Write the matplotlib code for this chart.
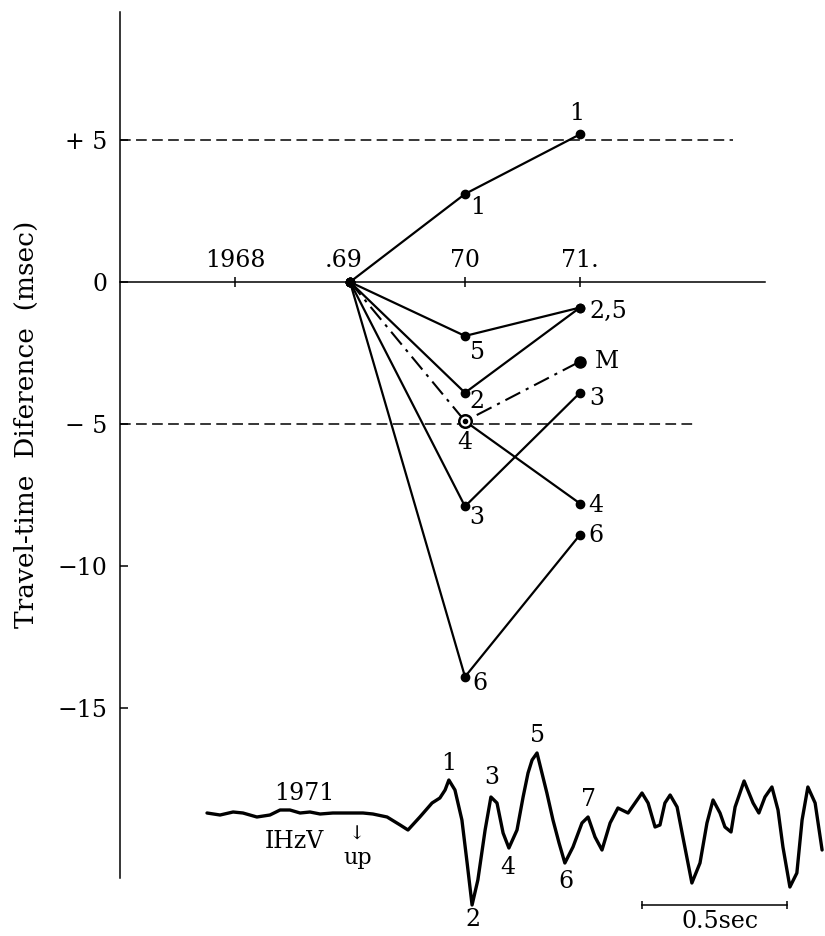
import matplotlib
matplotlib.use("Agg")
import matplotlib.pyplot as plt

plt.rcParams["font.family"] = ["DejaVu Serif"]

# travel-time differences (msec) relative to 1969
years = [1969, 1970, 1971]
ray1 = [0, 3.1, 5.2]
ray2 = [0, -3.9, -0.9]
ray3 = [0, -7.9, -3.9]
ray4 = [0, -4.9, -7.8]
ray5 = [0, -1.9, -0.9]
ray6 = [0, -13.9, -8.9]
mean_m = [0, -4.9, -2.8]

ytick_vals = [5, 0, -5, -10, -15]
ytick_labels = ["+ 5", "0", "\u2212 5", "\u221210", "\u221215"]
xtick_years = [1968, 1969, 1970, 1971]
xtick_labels = ["1968", ".69", "70", "71."]

# seismogram IHzV 1971 (time in sec, amplitude arbitrary)
wave_t = [0.000, 0.045, 0.090, 0.124, 0.172, 0.217, 0.252, 0.286, 0.321, 0.355,
          0.390, 0.434, 0.483, 0.538, 0.572, 0.621, 0.666, 0.693, 0.734, 0.776,
          0.803, 0.821, 0.834, 0.855, 0.879, 0.897, 0.914, 0.934, 0.959, 0.979,
          1.000, 1.021, 1.041, 1.069, 1.090, 1.107, 1.121, 1.138, 1.155, 1.172,
          1.193, 1.214, 1.234, 1.262, 1.293, 1.314, 1.338, 1.362, 1.390, 1.417,
          1.452, 1.476, 1.500, 1.521, 1.545, 1.562, 1.579, 1.597, 1.621, 1.641,
          1.672, 1.700, 1.724, 1.745, 1.769, 1.786, 1.807, 1.821, 1.852, 1.883,
          1.903, 1.924, 1.948, 1.969, 1.986, 2.010, 2.034, 2.052, 2.072, 2.097,
          2.121]
wave_a = [0.0, -0.2, 0.1, 0.0, -0.4, -0.2, 0.3, 0.3, 0.0, 0.1,
          -0.1, 0.0, 0.0, 0.0, -0.1, -0.4, -1.2, -1.7, -0.4, 1.0,
          1.5, 2.3, 3.3, 2.3, -0.7, -5.0, -9.2, -6.7, -1.7, 1.6,
          1.0, -2.0, -3.5, -1.7, 1.6, 4.0, 5.3, 6.0, 4.0, 2.0,
          -0.7, -3.0, -5.0, -3.4, -1.0, -0.4, -2.4, -3.7, -1.0, 0.5,
          0.0, 1.0, 2.0, 1.0, -1.4, -1.2, 1.0, 1.8, 0.6, -2.4,
          -7.0, -5.0, -1.0, 1.3, 0.0, -1.4, -1.9, 0.6, 3.2, 1.0,
          0.0, 1.6, 2.6, 0.3, -3.4, -7.4, -6.0, -0.7, 2.6, 1.0,
          -3.7]
phase_labels = ["1", "2", "3", "4", "5", "6", "7"]
phase_pos = [(0.834, 5.0), (0.917, -10.7), (0.983, 3.5), (1.038, -5.4),
             (1.138, 7.8), (1.238, -6.9), (1.314, 1.3)]
scale_start = 1.5
scale_len = 0.5

FS = 17

fig = plt.figure(figsize=(8.25, 9.36), dpi=100)

# main diagram, axes fill the page; y axis sits at 1967
ax = fig.add_axes([0, 0, 1, 1])
ax.patch.set_alpha(0)
ax.set_xlim(1967 - 120 / 115, 1967 + 705 / 115)
ax.set_ylim(-654 / 28.4, 282 / 28.4)
for s in ["top", "right", "bottom"]:
    ax.spines[s].set_visible(False)
ax.spines["left"].set_position(("data", 1967))
ax.spines["left"].set_bounds(-21.0, 9.5)
ax.spines["left"].set_linewidth(1.1)
ax.set_xticks([])
ax.set_yticks(ytick_vals)
ax.set_yticklabels(ytick_labels, fontsize=FS)
ax.tick_params(axis="y", direction="in", length=6, width=1.1, pad=9)

ax.text(1966.19, -5.0, "Travel-time  Diference  (msec)", rotation=90,
        ha="center", va="center", fontsize=19)

# reference lines
ax.plot([1967, 1972.61], [0, 0], color="black", lw=1.1)
ax.plot([1967, 1972.33], [5, 5], color="black", lw=1.1, ls=(0, (7, 3.5)))
ax.plot([1967, 1972.0], [-5, -5], color="black", lw=1.1, ls=(0, (7, 3.5)))
ax.vlines([y for y in xtick_years if y != 1969], -0.18, 0.18, color="black", lw=1.1)
for yr, lab in zip(xtick_years, xtick_labels):
    dx = -6 if lab.startswith(".") else 0
    ax.annotate(lab, (yr, 0.35), xytext=(dx, 0), textcoords="offset pixels",
                ha="center", va="bottom", fontsize=FS)

# rays
kw = dict(color="black", lw=1.6, solid_capstyle="round")
for r in [ray1, ray2, ray3, ray5, ray6]:
    ax.plot(years, r, **kw)
# ray 4 shares the 1969-1970 segment with the mean (dash-dot)
ax.plot(years[1:], ray4[1:], **kw)
ax.plot(years, mean_m, color="black", lw=1.5, ls=(0, (8, 3, 1.5, 3)))

for r in [ray1, ray2, ray3, ray4, ray5, ray6]:
    ax.plot(years, r, "o", color="black", ms=6, ls="none")
ax.plot(years[2], mean_m[2], "o", color="black", ms=8)
ax.plot(years[1], mean_m[1], "o", mfc="white", mec="black", mew=1.8, ms=9)
ax.plot(years[1], mean_m[1], "o", color="black", ms=3)

labels = [
    (1971, ray1[2], "1", -3, 21, "center"),
    (1970, ray1[1], "1", 13, -14, "center"),
    (1971, ray2[2], "2,5", 9, -4, "left"),
    (1970, ray5[1], "5", 13, -17, "center"),
    (1971, mean_m[2], "M", 15, 0, "left"),
    (1970, ray2[1], "2", 12, -9, "center"),
    (1971, ray3[2], "3", 9, -6, "left"),
    (1970, ray4[1], "4", 0, -21, "center"),
    (1970, ray3[1], "3", 12, -11, "center"),
    (1971, ray4[2], "4", 8, -2, "left"),
    (1971, ray6[2], "6", 8, -1, "left"),
    (1970, ray6[1], "6", 15, -7, "center"),
]
for x, y, t, dx, dy, ha in labels:
    ax.annotate(t, (x, y), xytext=(dx, dy), textcoords="offset pixels",
                ha=ha, va="center", fontsize=FS)

# seismogram panel
wax = fig.add_axes([0, 0, 1, 1])
wax.patch.set_alpha(0)
wax.axis("off")
wax.set_xlim(-207 / 290, 618 / 290)
wax.set_ylim(-123 / 10, 813 / 10)
wax.plot(wave_t, wave_a, color="black", lw=2.4, solid_joinstyle="round",
         solid_capstyle="round")
for lab, (t, a) in zip(phase_labels, phase_pos):
    wax.text(t, a, lab, ha="center", va="center", fontsize=FS)
wax.text(0.334, 1.9, "1971", ha="center", va="center", fontsize=FS)
wax.text(0.303, -2.8, "IHzV", ha="center", va="center", fontsize=FS)
wax.text(0.517, -2.2, "\u2193", ha="center", va="center", fontsize=14)
wax.text(0.521, -4.5, "up", ha="center", va="center", fontsize=FS - 1)
wax.plot([scale_start, scale_start + scale_len], [-9.2, -9.2], color="black", lw=1.1)
wax.vlines([scale_start, scale_start + scale_len], -9.6, -8.8, color="black", lw=1.1)
wax.text(scale_start + scale_len / 2 + 0.02, -10.9, "0.5sec", ha="center",
         va="center", fontsize=FS)

fig.savefig("out.png", dpi=100)
